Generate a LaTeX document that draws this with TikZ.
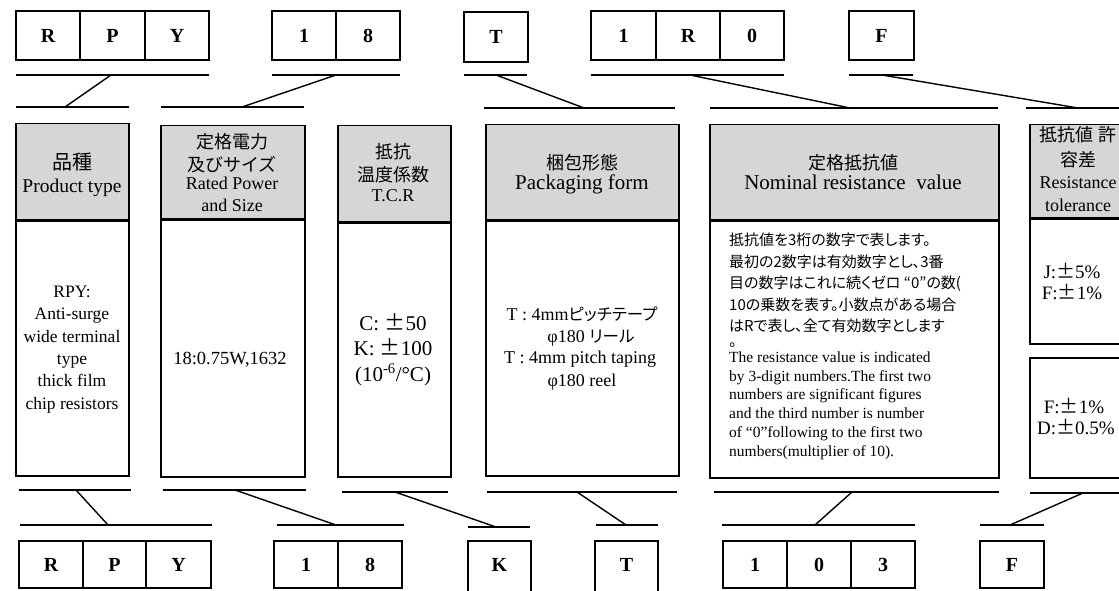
\documentclass[tikz,border=0pt]{standalone}
\usepackage{fontspec}
\setmainfont{Liberation Serif}
\newfontfamily\jp{Noto Sans CJK JP}
\newfontfamily\jpp[RawFeature=+palt]{Noto Sans CJK JP}
\newcommand\myfs[1]{\fontsize{#1}{#1}\selectfont}
\newcommand\jpm{{\jp ±}}
\definecolor{hdrgray}{RGB}{214,214,214}
\tikzset{
  cell/.style={draw, line width=1.4pt, inner sep=0pt, font=\myfs{20}\bfseries},
  topcell/.style={cell, minimum height=49pt},
  botcell/.style={cell, minimum height=47pt},
  bar/.style={line width=1.7pt},
  conn/.style={line width=1.4pt},
  hdr/.style={draw, fill=hdrgray, line width=1.5pt, inner sep=0pt, anchor=north west},
  bodybox/.style={draw, line width=1.5pt, inner sep=0pt, anchor=north west},
  split/.style={line width=2.6pt},
  lbl/.style={inner sep=0pt, anchor=base},
  lblw/.style={inner sep=0pt, anchor=base west},
  jh/.style={font=\jp\myfs{18}},
  jh20/.style={font=\jp\myfs{20}},
  eh/.style={font=\myfs{18}},
  ehb/.style={font=\myfs{21}},
  eb/.style={font=\myfs{17.5}},
  ebig/.style={font=\myfs{21}},
  jsm/.style={font=\jpp\myfs{15}},
  esm/.style={font=\myfs{15.5}},
  etol/.style={font=\myfs{19}}
}
\begin{document}
\begin{tikzpicture}[x=1pt,y=-1pt]
\clip (0,0) rectangle (1119,591);
\fill[white] (0,0) rectangle (1119,591);

% ---------- top code ----------
\node[topcell, minimum width=64pt] (tR) at (48,35.5) {R};
\node[topcell, minimum width=65pt] (tP) at (112.5,35.5) {P};
\node[topcell, minimum width=64pt] (tY) at (177,35.5) {Y};
\node[topcell, minimum width=64pt] (t1) at (304,35.5) {1};
\node[topcell, minimum width=64pt] (t8) at (368,35.5) {8};
\node[cell, minimum width=64pt, minimum height=50pt] (tT) at (496,37) {T};
\node[topcell, minimum width=65pt] (t1b) at (623.5,35.5) {1};
\node[topcell, minimum width=64pt] (tRb) at (688,35.5) {R};
\node[topcell, minimum width=64pt] (t0) at (752,35.5) {0};
\node[topcell, minimum width=65pt] (tF) at (881.5,35.5) {F};

% upper bars
\coordinate (ua1) at (16,75);  \coordinate (ua2) at (209,75);
\coordinate (ub1) at (272,75); \coordinate (ub2) at (400,75);
\coordinate (uc1) at (464,75); \coordinate (uc2) at (527,75);
\coordinate (ud1) at (591,75); \coordinate (ud2) at (784,75);
\coordinate (ue1) at (849,75); \coordinate (ue2) at (913,75);
\foreach \p in {a,b,c,d,e} \draw[bar] (u\p1) -- (u\p2);
% lower bars above headers
\coordinate (va1) at (16,107);  \coordinate (va2) at (129,107);
\coordinate (vb1) at (161,107); \coordinate (vb2) at (304,107);
\coordinate (vd1) at (484,108); \coordinate (vd2) at (675,108);
\coordinate (ve1) at (710,108); \coordinate (ve2) at (998,108);
\coordinate (vf1) at (1026,108); \coordinate (vf2) at (1125,108);
\foreach \p in {a,b,d,e,f} \draw[bar] (v\p1) -- (v\p2);
% slanted connectors
\coordinate (ka1) at (111,75);  \coordinate (ka2) at (65,107);
\coordinate (kb1) at (336,75);  \coordinate (kb2) at (242,107);
\coordinate (kc1) at (496,75);  \coordinate (kc2) at (584,108);
\coordinate (kd1) at (690,75);  \coordinate (kd2) at (850,108);
\coordinate (ke1) at (882,75);  \coordinate (ke2) at (1078,108);
\foreach \p in {a,b,c,d,e} \draw[conn] (k\p1) -- (k\p2);

% ---------- columns ----------
\node[hdr, minimum width=113pt, minimum height=96pt] (h1) at (15,123) {};
\node[bodybox, minimum width=113pt, minimum height=256pt] (g1) at (15,219) {};
\node[hdr, minimum width=144pt, minimum height=93pt] (h2) at (160,125) {};
\node[bodybox, minimum width=144pt, minimum height=258pt] (g2) at (160,218) {};
\node[hdr, minimum width=113pt, minimum height=96pt] (h3) at (337,125) {};
\node[bodybox, minimum width=113pt, minimum height=255pt] (g3) at (337,221) {};
\node[hdr, minimum width=193pt, minimum height=95pt] (h4) at (485,124) {};
\node[bodybox, minimum width=193pt, minimum height=256pt] (g4) at (485,219) {};
\node[hdr, minimum width=289pt, minimum height=95pt] (h5) at (709,124) {};
\node[bodybox, minimum width=289pt, minimum height=258pt] (g5) at (709,219) {};
\node[hdr, minimum width=98pt, minimum height=93pt] (h6) at (1029,124) {};
\node[bodybox, minimum width=98pt, minimum height=126pt] (g6) at (1029,217) {};
\node[bodybox, minimum width=98pt, minimum height=120pt] (g7) at (1029,357) {};
\foreach \i in {1,...,6} \draw[split] (h\i.south west) -- (h\i.south east);

% header texts
\node[lbl, jh20] (x11) at (72,169.4) {品種};
\node[lbl, font=\myfs{19.5}] (x12) at (72,193) {Product type};
\node[lbl, jh] (x21) at (232,148.7) {定格電力};
\node[lbl, jh] (x22) at (232,171.7) {及びサイズ};
\node[lbl, eh] (x23) at (232,189) {Rated Power};
\node[lbl, eh] (x24) at (232,211) {and Size};
\node[lbl, jh] (x31) at (393,158.7) {抵抗};
\node[lbl, jh] (x32) at (393,181.7) {温度係数};
\node[lbl, eh] (x33) at (393,201) {T.C.R};
\node[lbl, jh] (x41) at (582,169.7) {梱包形態};
\node[lbl, ehb] (x42) at (582,189) {Packaging form};
\node[lbl, jh] (x51) at (853,169.7) {定格抵抗値};
\node[lbl, ehb] (x52) at (853,189) {Nominal resistance~ value};
\node[lbl, jh] (x61) at (1078,141.7) {抵抗値 許};
\node[lbl, jh] (x62) at (1078,166.7) {容差};
\node[lbl, eh] (x63) at (1078,188.5) {Resistance};
\node[lbl, eh] (x64) at (1078,211) {tolerance};

% body texts
\node[lbl, eb] (y11) at (72,297) {RPY:};
\node[lbl, eb] (y12) at (72,319.5) {Anti-surge};
\node[lbl, eb] (y13) at (72,342) {wide terminal};
\node[lbl, eb] (y14) at (72,364) {type};
\node[lbl, eb] (y15) at (72,386.5) {thick film};
\node[lbl, eb] (y16) at (72,409) {chip resistors};
\node[lbl, font=\myfs{18.5}] (y21) at (230,364) {18:0.75W,1632};
\node[lbl, ebig] (y31) at (393,330.3) {C: \jpm50};
\node[lbl, ebig] (y32) at (393,355.3) {K: \jpm100};
\node[lbl, ebig] (y33) at (393,381) {(10\textsuperscript{-6}/°C)};
\node[lbl, font=\myfs{18}] (y41) at (582,320.6) {T : 4mm{\jpp\myfs{16.5}ピッチテープ}};
\node[lbl, font=\myfs{18}] (y42) at (591,342.6) {φ180 {\jpp\myfs{16.5}リール}};
\node[lbl, font=\myfs{18}] (y43) at (580,363) {T : 4mm pitch taping};
\node[lbl, font=\myfs{18}] (y44) at (582,386) {φ180 reel};
\node[lblw, jsm] (y51) at (729,245.5) {抵抗値を3桁の数字で表します。};
\node[lblw, jsm] (y52) at (729,267) {最初の2数字は有効数字とし、3番};
\node[lblw, jsm] (y53) at (729,288.5) {目の数字はこれに続くゼロ “0”の数(};
\node[lblw, jsm] (y54) at (729,310) {10の乗数を表す。小数点がある場合};
\node[lblw, jsm] (y55) at (729,331.5) {はRで表し、全て有効数字とします};
\node[lblw, jsm, text height=5pt, text depth=0pt] (y56) at (729,346) {。};
\node[lblw, esm] (z51) at (729,362.2) {The resistance value is indicated};
\node[lblw, esm] (z52) at (729,381) {by 3-digit numbers.The first two};
\node[lblw, esm] (z53) at (729,399.8) {numbers are significant figures};
\node[lblw, esm] (z54) at (729,418.6) {and the third number is number};
\node[lblw, esm] (z55) at (729,437.4) {of “0”following to the first two};
\node[lblw, esm] (z56) at (729,456.2) {numbers(multiplier of 10).};
\node[lbl, etol] (y61) at (1072,278) {J:\jpm5\%};
\node[lbl, etol] (y62) at (1072,299) {F:\jpm1\%};
\node[lbl, etol] (y71) at (1074,413) {F:\jpm1\%};
\node[lbl, etol] (y72) at (1076,434) {D:\jpm0.5\%};

% ---------- bottom bars & connectors ----------
\coordinate (pa1) at (19,490);  \coordinate (pa2) at (131,490);
\coordinate (pb1) at (163,490); \coordinate (pb2) at (306,490);
\coordinate (pc1) at (342,492); \coordinate (pc2) at (448,492);
\coordinate (pd1) at (487,492); \coordinate (pd2) at (677,492);
\coordinate (pe1) at (714,492); \coordinate (pe2) at (999,492);
\coordinate (pf1) at (1030,493); \coordinate (pf2) at (1125,493);
\foreach \p in {a,b,c,d,e,f} \draw[bar] (p\p1) -- (p\p2);
\coordinate (qa1) at (20,525);  \coordinate (qa2) at (212,525);
\coordinate (qb1) at (277,525); \coordinate (qb2) at (404,525);
\coordinate (qc1) at (468,527); \coordinate (qc2) at (530,527);
\coordinate (qd1) at (596,525); \coordinate (qd2) at (658,525);
\coordinate (qe1) at (722,525); \coordinate (qe2) at (915,525);
\coordinate (qf1) at (980,525); \coordinate (qf2) at (1044,525);
\foreach \p in {a,b,c,d,e,f} \draw[bar] (q\p1) -- (q\p2);
\coordinate (ma1) at (76,490);   \coordinate (ma2) at (108,525);
\coordinate (mb1) at (235,490);  \coordinate (mb2) at (336,525);
\coordinate (mc1) at (395,492);  \coordinate (mc2) at (496,527);
\coordinate (md1) at (577,492);  \coordinate (md2) at (626,525);
\coordinate (me1) at (852,492);  \coordinate (me2) at (815,525);
\coordinate (mf1) at (1083,493); \coordinate (mf2) at (1010,525);
\foreach \p in {a,b,c,d,e,f} \draw[conn] (m\p1) -- (m\p2);

% ---------- bottom code ----------
\node[botcell, minimum width=64pt] (bR) at (51,564.5) {R};
\node[botcell, minimum width=63pt] (bP) at (114.5,564.5) {P};
\node[botcell, minimum width=65pt] (bY) at (178.5,564.5) {Y};
\node[botcell, minimum width=64pt] (b1) at (306,564.5) {1};
\node[botcell, minimum width=64pt] (b8) at (370,564.5) {8};
\node[cell, minimum width=63pt, minimum height=60pt, text depth=13pt] (bK) at (499.5,571) {K};
\node[cell, minimum width=63pt, minimum height=60pt, text depth=13pt] (bT) at (626.5,571) {T};
\node[botcell, minimum width=64pt] (b1c) at (755,564.5) {1};
\node[botcell, minimum width=64pt] (b0) at (819,564.5) {0};
\node[botcell, minimum width=64pt] (b3) at (883,564.5) {3};
\node[botcell, minimum width=64pt] (bF) at (1012,564.5) {F};
\end{tikzpicture}
\end{document}
